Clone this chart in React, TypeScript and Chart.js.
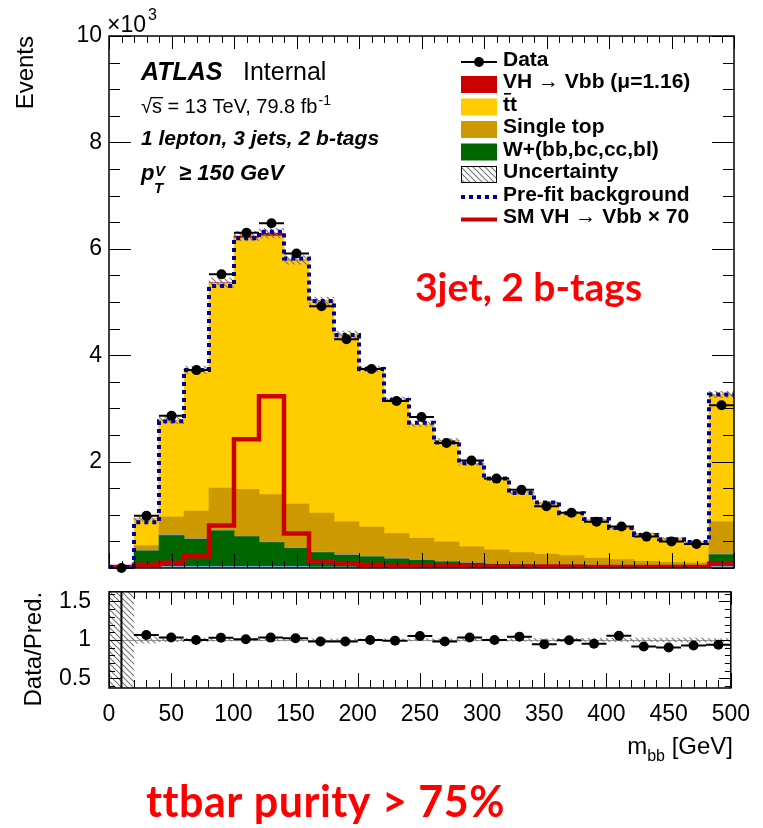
import React, { useEffect, useRef } from "react";
import { Chart, registerables } from "chart.js";

Chart.register(...registerables);

const SANS = '"Liberation Sans", Arial, Helvetica, sans-serif';
const ANNOT = 'Lato, "Open Sans", sans-serif';

// m_bb binning [GeV]
const binEdges = [0, 20, 40, 60, 80, 100, 120, 140, 160, 180, 200, 220, 240, 260, 280, 300, 320, 340, 360, 380, 400, 420, 440, 460, 480, 500];

// Yields per bin, in units of 10^3 events
const dataYield = [0.0, 0.98, 2.86, 3.72, 5.52, 6.3, 6.48, 5.91, 4.92, 4.3, 3.74, 3.14, 2.84, 2.35, 2.02, 1.68, 1.47, 1.16, 1.04, 0.87, 0.78, 0.59, 0.5, 0.45, 3.06];
const ttbarYield = [0.01, 0.5, 1.81, 2.65, 3.85, 4.72, 4.86, 4.58, 3.99, 3.52, 2.97, 2.52, 2.14, 1.91, 1.56, 1.34, 1.12, 0.97, 0.81, 0.73, 0.58, 0.52, 0.45, 0.39, 2.39];
const singleTopYield = [0.0, 0.08, 0.33, 0.51, 0.78, 0.87, 0.88, 0.81, 0.72, 0.61, 0.54, 0.46, 0.4, 0.36, 0.3, 0.26, 0.22, 0.2, 0.18, 0.13, 0.11, 0.08, 0.07, 0.06, 0.59];
const wHFYield = [0.005, 0.3, 0.58, 0.51, 0.67, 0.56, 0.45, 0.34, 0.27, 0.22, 0.19, 0.15, 0.13, 0.1, 0.08, 0.06, 0.05, 0.04, 0.035, 0.035, 0.03, 0.03, 0.02, 0.02, 0.22];
const wLightYield = [0, 0.02, 0.02, 0.02, 0.02, 0.02, 0.02, 0.02, 0.02, 0.02, 0.02, 0.02, 0.015, 0.015, 0.01, 0.01, 0.01, 0.01, 0.01, 0.01, 0.01, 0.005, 0.005, 0.005, 0.03];
const otherYield = [0.005, 0.02, 0.03, 0.03, 0.03, 0.03, 0.03, 0.03, 0.02, 0.02, 0.02, 0.02, 0.015, 0.015, 0.01, 0.01, 0.01, 0.01, 0.01, 0.01, 0.01, 0.01, 0.01, 0.01, 0.03];
const smVHx70Yield = [0.02, 0.06, 0.1, 0.22, 0.8, 2.42, 3.23, 0.65, 0.12, 0.08, 0.06, 0.05, 0.05, 0.04, 0.04, 0.03, 0.03, 0.03, 0.03, 0.02, 0.02, 0.02, 0.02, 0.02, 0.08];
const prefitBkgYield = [0.02, 0.86, 2.76, 3.72, 5.3, 6.2, 6.32, 5.82, 5.02, 4.38, 3.74, 3.16, 2.73, 2.36, 1.97, 1.68, 1.41, 1.23, 1.03, 0.92, 0.75, 0.62, 0.54, 0.49, 3.26];
const predUnc = [0.03, 0.04, 0.06, 0.07, 0.09, 0.09, 0.09, 0.08, 0.07, 0.06, 0.05, 0.045, 0.04, 0.035, 0.03, 0.025, 0.025, 0.02, 0.02, 0.018, 0.016, 0.015, 0.014, 0.013, 0.06];
const ratioErr = [2.0, 0.035, 0.02, 0.017, 0.014, 0.013, 0.013, 0.013, 0.015, 0.016, 0.017, 0.019, 0.02, 0.022, 0.024, 0.026, 0.028, 0.031, 0.033, 0.036, 0.038, 0.044, 0.048, 0.05, 0.02];

// Fitted signal strength and the display scale of the SM signal outline
const MU = 1.16;
const SIGNAL_SCALE = 70;

// Axis ticks
const xMajorTicks = [0, 50, 100, 150, 200, 250, 300, 350, 400, 450, 500];
const mainYMajorTicks = [0, 2, 4, 6, 8, 10];
const mainYLabelTicks = [2, 4, 6, 8, 10];
const ratioYMajorTicks = [0.5, 1, 1.5];

const COLORS = {
  vh: "#CC0000",
  ttbar: "#FFCC00",
  singleTop: "#CC9900",
  wHF: "#006600",
  wLight: "#9C9C9C",
  other: "#6FB7E8",
  prefit: "#000099",
  smVH: "#CC0000",
  hatch: "#777777",
  annot: "#FF0000",
};

const steps = (from: number, to: number, step: number) =>
  Array.from({ length: Math.round((to - from) / step) + 1 }, (_, k) => +(from + k * step).toFixed(6));

const binCentres = binEdges.slice(0, -1).map((e, i) => (e + binEdges[i + 1]) / 2);
const vhYield = smVHx70Yield.map((v) => (v * MU) / SIGNAL_SCALE);
const predTotal = binCentres.map(
  (_, i) => otherYield[i] + wHFYield[i] + wLightYield[i] + singleTopYield[i] + ttbarYield[i] + vhYield[i]
);
const ratioValues = dataYield.map((d, i) => d / predTotal[i]);

const binPoints = (vals: number[]) => vals.map((v, i) => ({ x: binCentres[i], y: v }));
const stepPoints = (vals: number[]) =>
  binEdges.map((e, i) => ({ x: e, y: vals[Math.min(i, vals.length - 1)] }));

function makeHatch(color: string, size: number, width: number): CanvasPattern | string {
  const c = document.createElement("canvas");
  c.width = size;
  c.height = size;
  const g = c.getContext("2d");
  if (!g) return color;
  g.strokeStyle = color;
  g.lineWidth = width;
  g.beginPath();
  g.moveTo(-1, -1);
  g.lineTo(size + 1, size + 1);
  g.moveTo(-1, size - 1);
  g.lineTo(1, size + 1);
  g.moveTo(size - 1, -1);
  g.lineTo(size + 1, 1);
  g.stroke();
  return g.createPattern(c, "repeat") || color;
}

type TickLens = { xMajTop: number; xMinTop: number; xMajBot: number; xMinBot: number; yMaj: number; yMin: number };

function framePlugin(yScaleId: string, yMajor: number[], yMinor: number[], len: TickLens) {
  return {
    id: "frameTicks",
    afterDatasetsDraw(chart: any) {
      const { ctx, chartArea: a } = chart;
      const xs = chart.scales.x;
      const ys = chart.scales[yScaleId];
      const crisp = (v: number) => Math.round(v) + 0.5;
      ctx.save();
      ctx.strokeStyle = "#000";
      ctx.lineWidth = 1;
      ctx.beginPath();
      const xTick = (v: number, top: number, bot: number) => {
        const px = crisp(xs.getPixelForValue(v));
        ctx.moveTo(px, a.bottom);
        ctx.lineTo(px, a.bottom - bot);
        ctx.moveTo(px, a.top);
        ctx.lineTo(px, a.top + top);
      };
      steps(0, 500, 10).forEach((v) => xTick(v, len.xMinTop, len.xMinBot));
      xMajorTicks.forEach((v) => xTick(v, len.xMajTop, len.xMajBot));
      const yTick = (v: number, l: number) => {
        const py = crisp(ys.getPixelForValue(v));
        ctx.moveTo(a.left, py);
        ctx.lineTo(a.left + l, py);
        ctx.moveTo(a.right, py);
        ctx.lineTo(a.right - l, py);
      };
      yMinor.forEach((v) => yTick(v, len.yMin));
      yMajor.forEach((v) => yTick(v, len.yMaj));
      ctx.stroke();
      ctx.lineWidth = 1.5;
      ctx.strokeRect(a.left, a.top, a.right - a.left, a.bottom - a.top);
      ctx.restore();
    },
  };
}

function errorBarPlugin(yScaleId: string, values: number[], errs: number[] | null, clip: boolean) {
  return {
    id: "dataErrors",
    afterDatasetsDraw(chart: any) {
      const { ctx, chartArea: a } = chart;
      const xs = chart.scales.x;
      const ys = chart.scales[yScaleId];
      ctx.save();
      if (clip) {
        ctx.beginPath();
        ctx.rect(a.left, a.top, a.right - a.left, a.bottom - a.top);
        ctx.clip();
      }
      ctx.strokeStyle = "#000";
      ctx.lineWidth = 2;
      ctx.beginPath();
      values.forEach((v, i) => {
        const py = ys.getPixelForValue(v);
        ctx.moveTo(xs.getPixelForValue(binEdges[i]), py);
        ctx.lineTo(xs.getPixelForValue(binEdges[i + 1]), py);
        if (errs) {
          const px = xs.getPixelForValue(binCentres[i]);
          ctx.moveTo(px, ys.getPixelForValue(v - errs[i]));
          ctx.lineTo(px, ys.getPixelForValue(v + errs[i]));
        }
      });
      ctx.stroke();
      ctx.restore();
    },
  };
}

function mainLabelsPlugin(hatch: CanvasPattern | string) {
  return {
    id: "mainLabels",
    afterDraw(chart: any) {
      const ctx: CanvasRenderingContext2D = chart.ctx;
      ctx.save();
      ctx.fillStyle = "#000";
      ctx.textAlign = "left";
      ctx.textBaseline = "alphabetic";

      // axis multiplier
      ctx.font = `23px ${SANS}`;
      ctx.fillText("×10", 107, 32);
      ctx.font = `16px ${SANS}`;
      ctx.fillText("3", 148, 20);

      // experiment label
      ctx.font = `italic bold 25px ${SANS}`;
      ctx.fillText("ATLAS", 141, 80);
      ctx.font = `25px ${SANS}`;
      ctx.fillText("Internal", 243, 80);

      ctx.font = `20px ${SANS}`;
      const rad = "√";
      const rw = ctx.measureText(rad).width;
      ctx.fillText(rad, 141, 113);
      const sw = ctx.measureText("s").width;
      ctx.fillText("s = 13 TeV, 79.8 fb", 141 + rw, 113);
      ctx.fillRect(141 + rw - 1, 97, sw + 2, 1.3);
      const lw = ctx.measureText("s = 13 TeV, 79.8 fb").width;
      ctx.font = `14px ${SANS}`;
      ctx.fillText("-1", 141 + rw + lw + 1, 105);

      ctx.font = `italic bold 21px ${SANS}`;
      ctx.fillText("1 lepton, 3 jets, 2 b-tags", 141, 145);

      ctx.font = `italic bold 22px ${SANS}`;
      ctx.fillText("p", 141, 180);
      ctx.font = `italic bold 15px ${SANS}`;
      ctx.fillText("V", 155, 176);
      ctx.fillText("T", 154, 193);
      ctx.font = `italic bold 22px ${SANS}`;
      ctx.fillText("≥ 150 GeV", 179, 180);

      // legend
      const lx = 461;
      const lwid = 36;
      const tx = 503;
      const rowY = (i: number) => 62 + 22.5 * i;
      const entries = [
        { label: "Data", kind: "data", color: "#000" },
        { label: `VH → Vbb (μ=${MU.toFixed(2)})`, kind: "box", color: COLORS.vh },
        { label: "tt", kind: "box", color: COLORS.ttbar },
        { label: "Single top", kind: "box", color: COLORS.singleTop },
        { label: "W+(bb,bc,cc,bl)", kind: "box", color: COLORS.wHF },
        { label: "Uncertainty", kind: "hatch", color: COLORS.hatch },
        { label: "Pre-fit background", kind: "dash", color: COLORS.prefit },
        { label: `SM VH → Vbb × ${SIGNAL_SCALE}`, kind: "line", color: COLORS.smVH },
      ];
      entries.forEach((e, i) => {
        const y = rowY(i);
        if (e.kind === "data") {
          ctx.strokeStyle = "#000";
          ctx.lineWidth = 2;
          ctx.beginPath();
          ctx.moveTo(lx, y);
          ctx.lineTo(lx + lwid, y);
          ctx.stroke();
          ctx.beginPath();
          ctx.arc(lx + lwid / 2, y, 5, 0, Math.PI * 2);
          ctx.fillStyle = "#000";
          ctx.fill();
        } else if (e.kind === "box") {
          ctx.fillStyle = e.color;
          ctx.fillRect(lx, y - 8.5, lwid, 17);
        } else if (e.kind === "hatch") {
          ctx.fillStyle = hatch as any;
          ctx.fillRect(lx, y - 8.5, lwid, 17);
          ctx.strokeStyle = "#000";
          ctx.lineWidth = 1;
          ctx.strokeRect(lx + 0.5, y - 8, lwid - 1, 16);
        } else {
          ctx.strokeStyle = e.color;
          ctx.lineWidth = 4;
          ctx.setLineDash(e.kind === "dash" ? [4, 4] : []);
          ctx.beginPath();
          ctx.moveTo(lx, y);
          ctx.lineTo(lx + lwid, y);
          ctx.stroke();
          ctx.setLineDash([]);
        }
        ctx.fillStyle = "#000";
        ctx.font = `bold 21px ${SANS}`;
        ctx.fillText(e.label, tx, y + 3.5);
        if (e.label === "tt") {
          const w = ctx.measureText("t").width;
          ctx.fillRect(tx + 1, y - 14, w, 1.6);
        }
      });

      // region annotation
      ctx.fillStyle = COLORS.annot;
      ctx.font = `bold 39px ${ANNOT}`;
      ctx.fillText("3jet, 2 b-tags", 415, 301);
      ctx.restore();
    },
  };
}

function ratioLabelsPlugin(top: number) {
  return {
    id: "ratioLabels",
    beforeDatasetsDraw(chart: any) {
      const { ctx, chartArea: a } = chart;
      const ys = chart.scales.y;
      const py = Math.round(ys.getPixelForValue(1)) + 0.5;
      ctx.save();
      ctx.strokeStyle = "#999";
      ctx.lineWidth = 1;
      ctx.beginPath();
      ctx.moveTo(a.left, py);
      ctx.lineTo(a.right, py);
      ctx.stroke();
      ctx.restore();
    },
    afterDraw(chart: any) {
      const ctx: CanvasRenderingContext2D = chart.ctx;
      ctx.save();
      ctx.fillStyle = "#000";
      ctx.textBaseline = "alphabetic";
      ctx.textAlign = "left";
      // x-axis title, right aligned to the frame
      const right = 733;
      ctx.font = `24px ${SANS}`;
      const tail = " [GeV]";
      const tw = ctx.measureText(tail).width;
      ctx.font = `16px ${SANS}`;
      const sub = "bb";
      const sw = ctx.measureText(sub).width;
      ctx.font = `24px ${SANS}`;
      const mw = ctx.measureText("m").width;
      const x0 = right - tw - sw - mw;
      ctx.fillText("m", x0, 754 - top);
      ctx.fillText(tail, x0 + mw + sw, 754 - top);
      ctx.font = `16px ${SANS}`;
      ctx.fillText(sub, x0 + mw, 761 - top);

      // purity note
      ctx.fillStyle = COLORS.annot;
      ctx.font = `bold 43px ${ANNOT}`;
      (ctx as any).letterSpacing = "0.5px";
      ctx.fillText("ttbar purity > 75%", 146, 817 - top);
      ctx.restore();
    },
  };
}

const MAIN_H = 590;
const RATIO_TOP = 560;
const RATIO_H = 828 - RATIO_TOP;

export default function App() {
  const mainRef = useRef<HTMLCanvasElement>(null);
  const ratioRef = useRef<HTMLCanvasElement>(null);

  useEffect(() => {
    if (!mainRef.current || !ratioRef.current) return;
    Chart.defaults.font.family = SANS;
    const hatch = makeHatch(COLORS.hatch, 6, 1.1);

    const stackBar = (label: string, vals: number[], color: string) => ({
      type: "bar" as const,
      label,
      data: binPoints(vals) as any,
      backgroundColor: color,
      borderWidth: 0,
      yAxisID: "y",
      order: 4,
      barPercentage: 1,
      categoryPercentage: 1,
    });

    const main = new Chart(mainRef.current, {
      type: "bar",
      data: {
        datasets: [
          stackBar("Other", otherYield, COLORS.other),
          stackBar("W+(bb,bc,cc,bl)", wHFYield, COLORS.wHF),
          stackBar("W+light", wLightYield, COLORS.wLight),
          stackBar("Single top", singleTopYield, COLORS.singleTop),
          stackBar("tt", ttbarYield, COLORS.ttbar),
          stackBar("VH → Vbb", vhYield, COLORS.vh),
          {
            type: "bar",
            label: "Uncertainty",
            data: predTotal.map((t, i) => ({ x: binCentres[i], y: [t - predUnc[i], t + predUnc[i]] })) as any,
            backgroundColor: hatch as any,
            borderWidth: 0,
            yAxisID: "yU",
            order: 3,
            barPercentage: 1,
            categoryPercentage: 1,
          },
          {
            type: "line",
            label: "SM VH → Vbb × 70",
            data: stepPoints(smVHx70Yield) as any,
            stepped: "before",
            borderColor: COLORS.smVH,
            borderWidth: 4.5,
            pointRadius: 0,
            fill: false,
            yAxisID: "yU",
            order: 2,
          },
          {
            type: "line",
            label: "Pre-fit background",
            data: stepPoints(prefitBkgYield) as any,
            stepped: "before",
            borderColor: COLORS.prefit,
            borderWidth: 4,
            borderDash: [4, 4],
            borderCapStyle: "butt",
            pointRadius: 0,
            fill: false,
            yAxisID: "yU",
            order: 1,
          },
          {
            type: "line",
            label: "Data",
            data: binPoints(dataYield) as any,
            showLine: false,
            pointRadius: 5,
            pointBackgroundColor: "#000",
            pointBorderWidth: 0,
            yAxisID: "yU",
            order: 0,
            clip: false as any,
          },
        ],
      },
      options: {
        responsive: false,
        animation: false,
        events: [],
        layout: { padding: { left: 0, right: 29, top: 36, bottom: 22 } },
        plugins: { legend: { display: false }, tooltip: { enabled: false } },
        scales: {
          x: {
            type: "linear",
            min: 0,
            max: 500,
            stacked: true,
            offset: false,
            display: false,
          },
          y: {
            type: "linear",
            position: "left",
            min: 0,
            max: 10,
            stacked: true,
            afterFit: (s: any) => {
              s.width = 109;
            },
            afterBuildTicks: (s: any) => {
              s.ticks = mainYLabelTicks.map((v) => ({ value: v }));
            },
            ticks: {
              color: "#000",
              padding: 7,
              font: { family: SANS, size: 23 },
              callback: (v: any) => String(v),
            },
            grid: { display: false, drawTicks: false },
            border: { display: false },
            title: {
              display: true,
              text: "Events",
              align: "end",
              color: "#000",
              font: { family: SANS, size: 24 },
              padding: { top: 12, bottom: 0 },
            },
          },
          yU: { type: "linear", min: 0, max: 10, display: false },
        },
      } as any,
      plugins: [
        errorBarPlugin("yU", dataYield, null, false),
        framePlugin("y", mainYMajorTicks, steps(0, 10, 0.5), {
          xMajTop: 13,
          xMinTop: 7,
          xMajBot: 15,
          xMinBot: 7,
          yMaj: 22,
          yMin: 11,
        }),
        mainLabelsPlugin(hatch),
      ],
    });

    const ratio = new Chart(ratioRef.current, {
      type: "bar",
      data: {
        datasets: [
          {
            type: "bar",
            label: "Uncertainty",
            data: predTotal.map((t, i) => ({
              x: binCentres[i],
              y: [1 - predUnc[i] / t, 1 + predUnc[i] / t],
            })) as any,
            backgroundColor: hatch as any,
            borderWidth: 0,
            order: 1,
            barPercentage: 1,
            categoryPercentage: 1,
          },
          {
            type: "line",
            label: "Data/Pred.",
            data: binPoints(ratioValues) as any,
            showLine: false,
            pointRadius: 5,
            pointBackgroundColor: "#000",
            pointBorderWidth: 0,
            order: 0,
          },
        ],
      },
      options: {
        responsive: false,
        animation: false,
        events: [],
        layout: { padding: { left: 0, right: 29, top: 584 - RATIO_TOP, bottom: 0 } },
        plugins: { legend: { display: false }, tooltip: { enabled: false } },
        scales: {
          x: {
            type: "linear",
            min: 0,
            max: 500,
            offset: false,
            afterFit: (s: any) => {
              s.height = RATIO_H - (584 - RATIO_TOP) - 104;
            },
            afterBuildTicks: (s: any) => {
              s.ticks = xMajorTicks.map((v) => ({ value: v }));
            },
            ticks: {
              color: "#000",
              padding: 13,
              maxRotation: 0,
              autoSkip: false,
              font: { family: SANS, size: 23 },
              callback: (v: any) => String(v),
            },
            grid: { display: false, drawTicks: false },
            border: { display: false },
          },
          y: {
            type: "linear",
            position: "left",
            min: 0.375,
            max: 1.625,
            afterFit: (s: any) => {
              s.width = 109;
            },
            afterBuildTicks: (s: any) => {
              s.ticks = ratioYMajorTicks.map((v) => ({ value: v }));
            },
            ticks: {
              color: "#000",
              padding: 18,
              font: { family: SANS, size: 23 },
              callback: (v: any) => String(v),
            },
            grid: { display: false, drawTicks: false },
            border: { display: false },
            title: {
              display: true,
              text: "Data/Pred.",
              align: "end",
              color: "#000",
              font: { family: SANS, size: 24 },
              padding: { top: 20, bottom: 0 },
            },
          },
        },
      } as any,
      plugins: [
        ratioLabelsPlugin(RATIO_TOP),
        errorBarPlugin("y", ratioValues, ratioErr, true),
        framePlugin("y", ratioYMajorTicks, steps(0.4, 1.6, 0.1), {
          xMajTop: 13,
          xMinTop: 7,
          xMajBot: 15,
          xMinBot: 8,
          yMaj: 12,
          yMin: 6,
        }),
      ],
    });

    return () => {
      main.destroy();
      ratio.destroy();
    };
  }, []);

  return (
    <div style={{ position: "absolute", left: 0, top: 0, width: 763, height: 828, background: "#fff" }}>
      <canvas
        ref={mainRef}
        width={763}
        height={MAIN_H}
        style={{ position: "absolute", left: 0, top: 0, display: "block" }}
      />
      <canvas
        ref={ratioRef}
        width={763}
        height={RATIO_H}
        style={{ position: "absolute", left: 0, top: RATIO_TOP, display: "block" }}
      />
    </div>
  );
}
